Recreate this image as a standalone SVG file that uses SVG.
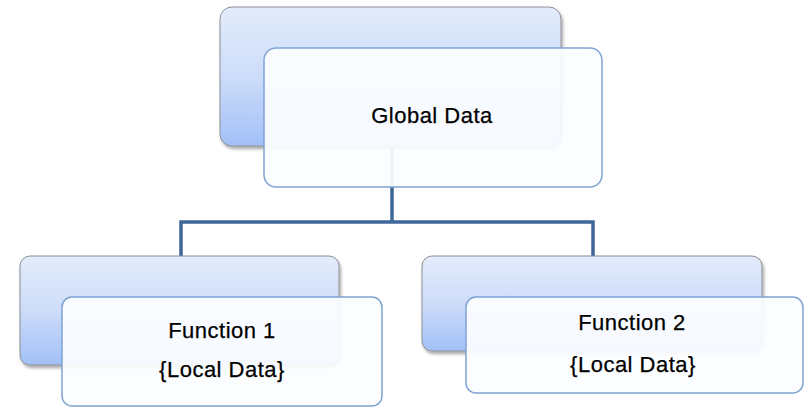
<svg xmlns="http://www.w3.org/2000/svg" width="808" height="407" viewBox="0 0 808 407">
  <style>
    .back { fill: url(#backGrad); stroke: #8c8f94; stroke-width: 1; filter: url(#shadow); }
    .front { fill: #fcfdff; fill-opacity: 0.93; stroke: #7ea3d3; stroke-width: 1.5; }
    .label { font-family: "Liberation Sans", Arial, sans-serif; font-size: 22px; fill: #000; stroke: #000; stroke-width: 0.25; text-anchor: middle; letter-spacing: 0.5px; }
    .wire { fill: none; stroke: #3f6699; stroke-width: 3.5; stroke-linejoin: miter; }
  </style>
  <defs>
    <linearGradient id="backGrad" x1="0" y1="0" x2="0" y2="1">
      <stop offset="0" stop-color="#e3ecfb"/>
      <stop offset="0.5" stop-color="#cddcf9"/>
      <stop offset="1" stop-color="#a2c0f8"/>
    </linearGradient>
    <filter id="shadow" x="-5%" y="-5%" width="115%" height="120%">
      <feDropShadow dx="1.5" dy="2.5" stdDeviation="1.8" flood-color="#000" flood-opacity="0.35"/>
    </filter>
  </defs>

  <!-- tree connectors -->
  <g id="connectors">
    <path class="wire" d="M392 146 V222 M181 257 V222 H593 V257"/>
  </g>

  <!-- root node -->
  <g id="global-data">
    <rect class="back" x="220" y="7" width="341" height="139" rx="12"/>
    <rect class="front" x="264" y="48" width="338" height="139" rx="12"/>
    <text class="label" x="432" y="123">Global Data</text>
  </g>

  <!-- left child -->
  <g id="function-1">
    <rect class="back" x="20" y="256" width="319" height="109" rx="10"/>
    <rect class="front" x="62" y="297" width="320" height="109" rx="10"/>
    <text class="label" x="222" y="338">Function 1</text>
    <text class="label" x="222" y="377">{Local Data}</text>
  </g>

  <!-- right child -->
  <g id="function-2">
    <rect class="back" x="422" y="256" width="340" height="95" rx="10"/>
    <rect class="front" x="466" y="297" width="337" height="96" rx="10"/>
    <text class="label" x="632" y="330">Function 2</text>
    <text class="label" x="633" y="372">{Local Data}</text>
  </g>
</svg>
